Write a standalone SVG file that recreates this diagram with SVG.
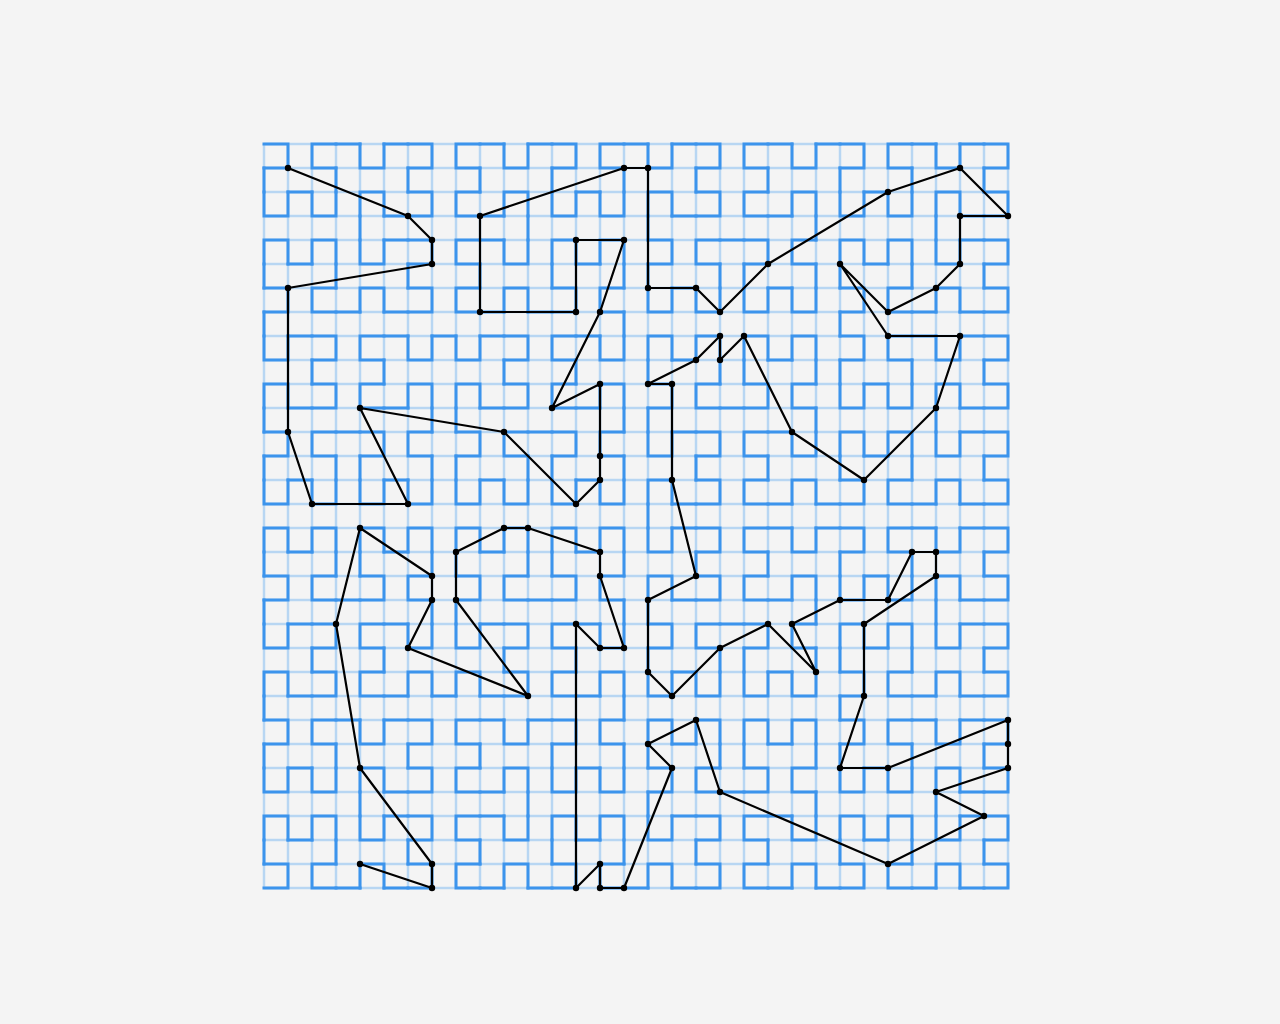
<svg xmlns="http://www.w3.org/2000/svg" width="1280" height="1024" viewBox="0 0 1280 1024">
<style>
.grid{fill:none;stroke:#b8d6f2;stroke-width:2.5}
.curve{fill:none;stroke:#3c94ec;stroke-width:3;stroke-linecap:square;stroke-linejoin:miter}
.tour{fill:none;stroke:#000;stroke-width:2.2;stroke-linejoin:round}
.pt circle{fill:#000}
</style>
<defs>
<path id="H1" d="M0,0V24H24V0"/>
<path id="G1" d="M0,0H24V24H0"/>
<g id="H2"><use href="#G1"/><use href="#H1" transform="translate(0,48)"/><use href="#H1" transform="translate(48,48)"/><use href="#H1" transform="matrix(0,-1,-1,0,72,24)"/><path d="M0,24V48M24,48H48M72,48V24"/></g>
<g id="G2"><use href="#H1"/><use href="#G1" transform="translate(48,0)"/><use href="#G1" transform="translate(48,48)"/><use href="#H1" transform="matrix(-1,0,0,-1,24,72)"/><path d="M24,0H48M48,24V48M48,72H24"/></g>
<g id="H3"><use href="#G2"/><use href="#H2" transform="translate(0,96)"/><use href="#H2" transform="translate(96,96)"/><use href="#H2" transform="matrix(0,-1,-1,0,168,72)"/><path d="M0,72V96M72,96H96M168,96V72"/></g>
<g id="G3"><use href="#H2"/><use href="#G2" transform="translate(96,0)"/><use href="#G2" transform="translate(96,96)"/><use href="#H2" transform="matrix(-1,0,0,-1,72,168)"/><path d="M72,0H96M96,72V96M96,168H72"/></g>
<g id="H4"><use href="#G3"/><use href="#H3" transform="translate(0,192)"/><use href="#H3" transform="translate(192,192)"/><use href="#H3" transform="matrix(0,-1,-1,0,360,168)"/><path d="M0,168V192M168,192H192M360,192V168"/></g>
<g id="G4"><use href="#H3"/><use href="#G3" transform="translate(192,0)"/><use href="#G3" transform="translate(192,192)"/><use href="#H3" transform="matrix(-1,0,0,-1,168,360)"/><path d="M168,0H192M192,168V192M192,360H168"/></g>
<g id="G5"><use href="#H4"/><use href="#G4" transform="translate(384,0)"/><use href="#G4" transform="translate(384,384)"/><use href="#H4" transform="matrix(-1,0,0,-1,360,744)"/><path d="M360,0H384M384,360V384M384,744H360"/></g>
</defs>
<rect width="1280" height="1024" fill="#f4f4f4"/>
<path class="grid" d="M264,144V888M288,144V888M312,144V888M336,144V888M360,144V888M384,144V888M408,144V888M432,144V888M456,144V888M480,144V888M504,144V888M528,144V888M552,144V888M576,144V888M600,144V888M624,144V888M648,144V888M672,144V888M696,144V888M720,144V888M744,144V888M768,144V888M792,144V888M816,144V888M840,144V888M864,144V888M888,144V888M912,144V888M936,144V888M960,144V888M984,144V888M1008,144V888M264,144H1008M264,168H1008M264,192H1008M264,216H1008M264,240H1008M264,264H1008M264,288H1008M264,312H1008M264,336H1008M264,360H1008M264,384H1008M264,408H1008M264,432H1008M264,456H1008M264,480H1008M264,504H1008M264,528H1008M264,552H1008M264,576H1008M264,600H1008M264,624H1008M264,648H1008M264,672H1008M264,696H1008M264,720H1008M264,744H1008M264,768H1008M264,792H1008M264,816H1008M264,840H1008M264,864H1008M264,888H1008"/>
<g class="curve"><use href="#G5" transform="matrix(1,0,0,-1,264,888)"/></g>
<g id="connectors">
<polyline class="tour" points="360,864 432,888 432,864 360,768 336,624 360,528 432,576 432,600 408,648 528,696 456,600 456,552 504,528 528,528 600,552 600,576 624,648 600,648 576,624 576,888 600,864 600,888 624,888 672,768 648,744 696,720 720,792 888,864 984,816 936,792 1008,768 1008,744 1008,720 888,768 840,768 864,696 864,624 936,576 936,552 912,552 888,600 840,600 792,624 816,672 768,624 720,648 672,696 648,672 648,600 696,576 672,480 672,384 648,384 696,360 720,336 720,360 744,336 792,432 864,480 936,408 960,336 888,336 840,264 888,312 936,288 960,264 960,216 1008,216 960,168 888,192 768,264 720,312 696,288 648,288 648,168 624,168 480,216 480,312 576,312 576,240 624,240 600,312 552,408 600,384 600,456 600,480 576,504 504,432 360,408 408,504 312,504 288,432 288,288 432,264 432,240 408,216 288,168"/>
</g>
<g id="nodes" class="pt">
<g id="n1"><circle cx="360" cy="864" r="3.2"/></g>
<g id="n2"><circle cx="432" cy="888" r="3.2"/></g>
<g id="n3"><circle cx="432" cy="864" r="3.2"/></g>
<g id="n4"><circle cx="360" cy="768" r="3.2"/></g>
<g id="n5"><circle cx="336" cy="624" r="3.2"/></g>
<g id="n6"><circle cx="360" cy="528" r="3.2"/></g>
<g id="n7"><circle cx="432" cy="576" r="3.2"/></g>
<g id="n8"><circle cx="432" cy="600" r="3.2"/></g>
<g id="n9"><circle cx="408" cy="648" r="3.2"/></g>
<g id="n10"><circle cx="528" cy="696" r="3.2"/></g>
<g id="n11"><circle cx="456" cy="600" r="3.2"/></g>
<g id="n12"><circle cx="456" cy="552" r="3.2"/></g>
<g id="n13"><circle cx="504" cy="528" r="3.2"/></g>
<g id="n14"><circle cx="528" cy="528" r="3.2"/></g>
<g id="n15"><circle cx="600" cy="552" r="3.2"/></g>
<g id="n16"><circle cx="600" cy="576" r="3.2"/></g>
<g id="n17"><circle cx="624" cy="648" r="3.2"/></g>
<g id="n18"><circle cx="600" cy="648" r="3.2"/></g>
<g id="n19"><circle cx="576" cy="624" r="3.2"/></g>
<g id="n20"><circle cx="576" cy="888" r="3.2"/></g>
<g id="n21"><circle cx="600" cy="864" r="3.2"/></g>
<g id="n22"><circle cx="600" cy="888" r="3.2"/></g>
<g id="n23"><circle cx="624" cy="888" r="3.2"/></g>
<g id="n24"><circle cx="672" cy="768" r="3.2"/></g>
<g id="n25"><circle cx="648" cy="744" r="3.2"/></g>
<g id="n26"><circle cx="696" cy="720" r="3.2"/></g>
<g id="n27"><circle cx="720" cy="792" r="3.2"/></g>
<g id="n28"><circle cx="888" cy="864" r="3.2"/></g>
<g id="n29"><circle cx="984" cy="816" r="3.2"/></g>
<g id="n30"><circle cx="936" cy="792" r="3.2"/></g>
<g id="n31"><circle cx="1008" cy="768" r="3.2"/></g>
<g id="n32"><circle cx="1008" cy="744" r="3.2"/></g>
<g id="n33"><circle cx="1008" cy="720" r="3.2"/></g>
<g id="n34"><circle cx="888" cy="768" r="3.2"/></g>
<g id="n35"><circle cx="840" cy="768" r="3.2"/></g>
<g id="n36"><circle cx="864" cy="696" r="3.2"/></g>
<g id="n37"><circle cx="864" cy="624" r="3.2"/></g>
<g id="n38"><circle cx="936" cy="576" r="3.2"/></g>
<g id="n39"><circle cx="936" cy="552" r="3.2"/></g>
<g id="n40"><circle cx="912" cy="552" r="3.2"/></g>
<g id="n41"><circle cx="888" cy="600" r="3.2"/></g>
<g id="n42"><circle cx="840" cy="600" r="3.2"/></g>
<g id="n43"><circle cx="792" cy="624" r="3.2"/></g>
<g id="n44"><circle cx="816" cy="672" r="3.2"/></g>
<g id="n45"><circle cx="768" cy="624" r="3.2"/></g>
<g id="n46"><circle cx="720" cy="648" r="3.2"/></g>
<g id="n47"><circle cx="672" cy="696" r="3.2"/></g>
<g id="n48"><circle cx="648" cy="672" r="3.2"/></g>
<g id="n49"><circle cx="648" cy="600" r="3.2"/></g>
<g id="n50"><circle cx="696" cy="576" r="3.2"/></g>
<g id="n51"><circle cx="672" cy="480" r="3.2"/></g>
<g id="n52"><circle cx="672" cy="384" r="3.2"/></g>
<g id="n53"><circle cx="648" cy="384" r="3.2"/></g>
<g id="n54"><circle cx="696" cy="360" r="3.2"/></g>
<g id="n55"><circle cx="720" cy="336" r="3.2"/></g>
<g id="n56"><circle cx="720" cy="360" r="3.2"/></g>
<g id="n57"><circle cx="744" cy="336" r="3.2"/></g>
<g id="n58"><circle cx="792" cy="432" r="3.2"/></g>
<g id="n59"><circle cx="864" cy="480" r="3.2"/></g>
<g id="n60"><circle cx="936" cy="408" r="3.2"/></g>
<g id="n61"><circle cx="960" cy="336" r="3.2"/></g>
<g id="n62"><circle cx="888" cy="336" r="3.2"/></g>
<g id="n63"><circle cx="840" cy="264" r="3.2"/></g>
<g id="n64"><circle cx="888" cy="312" r="3.2"/></g>
<g id="n65"><circle cx="936" cy="288" r="3.2"/></g>
<g id="n66"><circle cx="960" cy="264" r="3.2"/></g>
<g id="n67"><circle cx="960" cy="216" r="3.2"/></g>
<g id="n68"><circle cx="1008" cy="216" r="3.2"/></g>
<g id="n69"><circle cx="960" cy="168" r="3.2"/></g>
<g id="n70"><circle cx="888" cy="192" r="3.2"/></g>
<g id="n71"><circle cx="768" cy="264" r="3.2"/></g>
<g id="n72"><circle cx="720" cy="312" r="3.2"/></g>
<g id="n73"><circle cx="696" cy="288" r="3.2"/></g>
<g id="n74"><circle cx="648" cy="288" r="3.2"/></g>
<g id="n75"><circle cx="648" cy="168" r="3.2"/></g>
<g id="n76"><circle cx="624" cy="168" r="3.2"/></g>
<g id="n77"><circle cx="480" cy="216" r="3.2"/></g>
<g id="n78"><circle cx="480" cy="312" r="3.2"/></g>
<g id="n79"><circle cx="576" cy="312" r="3.2"/></g>
<g id="n80"><circle cx="576" cy="240" r="3.2"/></g>
<g id="n81"><circle cx="624" cy="240" r="3.2"/></g>
<g id="n82"><circle cx="600" cy="312" r="3.2"/></g>
<g id="n83"><circle cx="552" cy="408" r="3.2"/></g>
<g id="n84"><circle cx="600" cy="384" r="3.2"/></g>
<g id="n85"><circle cx="600" cy="456" r="3.2"/></g>
<g id="n86"><circle cx="600" cy="480" r="3.2"/></g>
<g id="n87"><circle cx="576" cy="504" r="3.2"/></g>
<g id="n88"><circle cx="504" cy="432" r="3.2"/></g>
<g id="n89"><circle cx="360" cy="408" r="3.2"/></g>
<g id="n90"><circle cx="408" cy="504" r="3.2"/></g>
<g id="n91"><circle cx="312" cy="504" r="3.2"/></g>
<g id="n92"><circle cx="288" cy="432" r="3.2"/></g>
<g id="n93"><circle cx="288" cy="288" r="3.2"/></g>
<g id="n94"><circle cx="432" cy="264" r="3.2"/></g>
<g id="n95"><circle cx="432" cy="240" r="3.2"/></g>
<g id="n96"><circle cx="408" cy="216" r="3.2"/></g>
<g id="n97"><circle cx="288" cy="168" r="3.2"/></g>
</g>
</svg>
